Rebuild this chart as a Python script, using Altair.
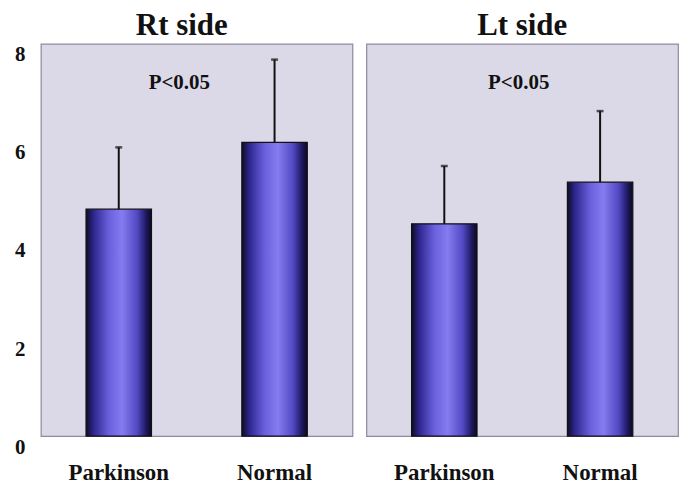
import altair as alt
import pandas as pd

groups = ["Parkinson", "Normal"]
sides = ["Rt side", "Lt side"]
rt_means = [4.63, 5.99]
rt_sd = [1.26, 1.69]
lt_means = [4.33, 5.18]
lt_sd = [1.18, 1.45]
p_label = "P<0.05"
y_ticks = [0, 2, 4, 6, 8]

FONT = "Liberation Serif"
INK = "#111111"

grad = alt.Gradient(
    gradient="linear",
    x1=0, x2=1, y1=0, y2=0,
    stops=[
        alt.GradientStop(color="#0e0b26", offset=0.0),
        alt.GradientStop(color="#2f2790", offset=0.12),
        alt.GradientStop(color="#6a60dc", offset=0.35),
        alt.GradientStop(color="#857cf0", offset=0.55),
        alt.GradientStop(color="#5249c4", offset=0.78),
        alt.GradientStop(color="#1e1860", offset=0.92),
        alt.GradientStop(color="#0b0920", offset=1.0),
    ],
)

W, H = 313, 394


def panel(title, means, sds, show_axis, title_dx, p_x):
    df = pd.DataFrame({
        "group": groups,
        "mean": means,
        "top": [m + s for m, s in zip(means, sds)],
    })
    xenc = alt.X(
        "group:N", sort=groups,
        scale=alt.Scale(paddingInner=0.58, paddingOuter=0.29),
        axis=alt.Axis(title=None, labelAngle=0, domain=False, ticks=False,
                      labelFont=FONT, labelFontWeight="bold", labelFontSize=23,
                      labelColor=INK, labelPadding=26, labelBaseline="top"),
    )
    if show_axis:
        yaxis = alt.Axis(title=None, values=y_ticks, domain=False, ticks=False,
                         grid=False, labelFont=FONT, labelFontWeight="bold",
                         labelFontSize=21, labelColor=INK, labelPadding=16,
                         labelOffset=11)
    else:
        yaxis = None
    yscale = alt.Scale(domain=[0, 8], nice=False)
    base = alt.Chart(df)
    bars = base.mark_bar(color=grad, stroke=INK, strokeWidth=1.2).encode(
        x=xenc, y=alt.Y("mean:Q", scale=yscale, axis=yaxis))
    err = base.mark_rule(color=INK, strokeWidth=2).encode(
        x=alt.X("group:N", sort=groups), y=alt.Y("mean:Q", scale=yscale), y2="top:Q")
    cap = base.mark_tick(color=INK, thickness=2.5, size=7).encode(
        x=alt.X("group:N", sort=groups), y=alt.Y("top:Q", scale=yscale))
    ptxt = alt.Chart(pd.DataFrame({"t": [p_label]})).mark_text(
        font=FONT, fontWeight="bold", fontSize=21, color=INK, baseline="alphabetic"
    ).encode(x=alt.value(p_x), y=alt.value(45), text="t:N")
    return alt.layer(bars, err, cap, ptxt).properties(
        width=W, height=H,
        title=alt.TitleParams(title, font=FONT, fontSize=31, fontWeight="bold",
                              color=INK, offset=2, dx=title_dx, anchor="middle"),
    )


left = panel(sides[0], rt_means, rt_sd, True, -15, 139)
right = panel(sides[1], lt_means, lt_sd, False, 0, 153)

chart = alt.hconcat(left, right, spacing=12).properties(
    padding={"left": 5, "top": 0, "right": 0, "bottom": 0},
    background="white",
).configure_view(
    fill="#dbd9e8", stroke="#8c8a9c", strokeWidth=1.2
).resolve_scale(x="independent", y="independent")

chart.save("out.html", embed_options={"renderer": "svg", "actions": False})
